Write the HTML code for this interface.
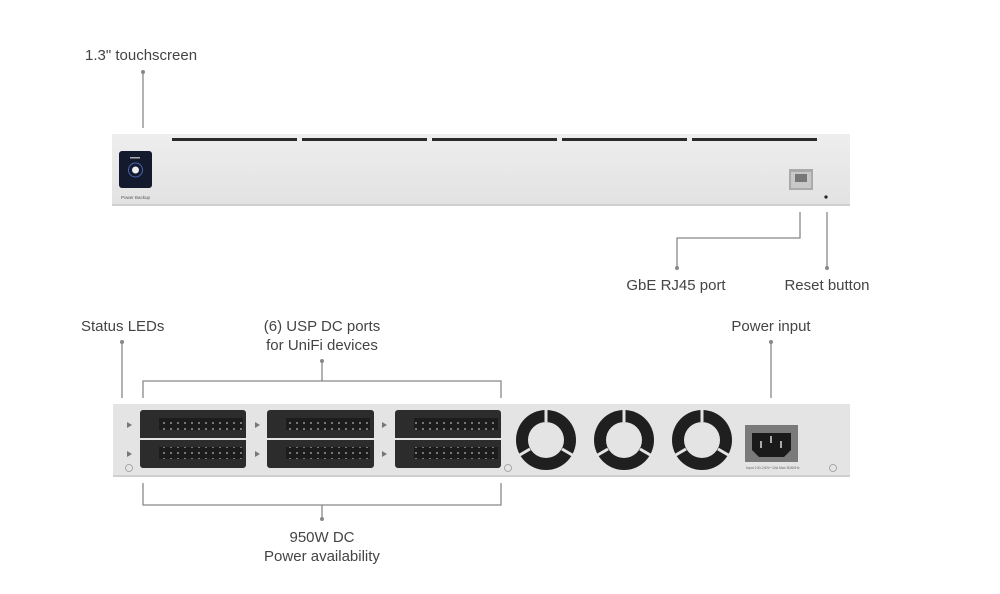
<!DOCTYPE html>
<html><head><meta charset="utf-8"><style>
html,body{margin:0;padding:0;background:#fff;}
svg{display:block;}
text{font-family:"Liberation Sans",sans-serif;fill:#444;font-size:15px;}
</style></head><body>
<svg width="1000" height="594" viewBox="0 0 1000 594" xmlns="http://www.w3.org/2000/svg">
<defs>
<pattern id="pins" x="0" y="0" width="7" height="6" patternUnits="userSpaceOnUse">
<rect width="7" height="6" fill="#1c1c1c"/><rect x="2" y="2" width="2" height="2" fill="#777"/>
</pattern>
<linearGradient id="dev" x1="0" y1="0" x2="0" y2="1"><stop offset="0" stop-color="#eeeeee"/><stop offset="1" stop-color="#e2e2e2"/></linearGradient>
</defs>
<g stroke="#888" stroke-width="1.3" fill="none">
<line x1="143" y1="72" x2="143" y2="128"/>
<polyline points="800,212 800,238 677,238 677,268"/>
<line x1="827" y1="212" x2="827" y2="268"/>
<line x1="122" y1="342" x2="122" y2="398"/>
<polyline points="143,398 143,381 501,381 501,398"/>
<line x1="322" y1="361" x2="322" y2="381"/>
<polyline points="143,483 143,505 501,505 501,483"/>
<line x1="322" y1="505" x2="322" y2="519"/>
<line x1="771" y1="342" x2="771" y2="398"/>
</g>
<g fill="#888"><circle cx="143" cy="72" r="2"/><circle cx="677" cy="268" r="2"/><circle cx="827" cy="268" r="2"/><circle cx="122" cy="342" r="2"/><circle cx="322" cy="361" r="2"/><circle cx="322" cy="519" r="2"/><circle cx="771" cy="342" r="2"/></g>
<text x="85" y="60">1.3" touchscreen</text>
<text x="676" y="290" text-anchor="middle">GbE RJ45 port</text>
<text x="827" y="290" text-anchor="middle">Reset button</text>
<text x="81" y="331">Status LEDs</text>
<text x="322" y="331" text-anchor="middle">(6) USP DC ports</text>
<text x="322" y="350" text-anchor="middle">for UniFi devices</text>
<text x="771" y="331" text-anchor="middle">Power input</text>
<text x="322" y="542" text-anchor="middle">950W DC</text>
<text x="322" y="561" text-anchor="middle">Power availability</text>

<rect x="112" y="134" width="738" height="72" fill="url(#dev)"/>
<rect x="112" y="204" width="738" height="2" fill="#cfcfcf"/>
<g fill="#2a2a2a">
<rect x="172" y="138" width="125" height="3"/><rect x="302" y="138" width="125" height="3"/><rect x="432" y="138" width="125" height="3"/><rect x="562" y="138" width="125" height="3"/><rect x="692" y="138" width="125" height="3"/>
</g>
<rect x="119" y="151" width="33" height="37" rx="3" fill="#141a2e"/>
<circle cx="135.5" cy="170" r="7" fill="none" stroke="#4a64b0" stroke-width="1"/>
<circle cx="135.5" cy="170" r="3.5" fill="#eee"/>
<rect x="130" y="157" width="10" height="1.5" fill="#aaa"/>
<text x="121" y="199" style="font-size:4.5px;fill:#555">Power Backup</text>
<rect x="789" y="169" width="24" height="21" fill="#aaa"/>
<rect x="791" y="172" width="20" height="16" fill="#c8c8c8"/>
<rect x="795" y="174" width="12" height="8" fill="#777"/>
<circle cx="826" cy="197" r="1.6" fill="#222"/>

<rect x="113" y="404" width="737" height="73" fill="#e4e4e4"/>
<rect x="113" y="475" width="737" height="2" fill="#cfcfcf"/>
<g fill="#2c2c2c">
<rect x="140" y="410" width="106" height="58" rx="3"/>
<rect x="267" y="410" width="107" height="58" rx="3"/>
<rect x="395" y="410" width="106" height="58" rx="3"/>
</g>
<g fill="#e4e4e4"><rect x="140" y="438" width="106" height="2"/><rect x="267" y="438" width="107" height="2"/><rect x="395" y="438" width="106" height="2"/></g>
<g fill="url(#pins)">
<rect x="159" y="418" width="84" height="12"/><rect x="159" y="447" width="84" height="12"/>
<rect x="286" y="418" width="84" height="12"/><rect x="286" y="447" width="84" height="12"/>
<rect x="414" y="418" width="84" height="12"/><rect x="414" y="447" width="84" height="12"/>
</g>
<g fill="#777">
<polygon points="127,422 127,428 132,425"/><polygon points="127,451 127,457 132,454"/>
<polygon points="255,422 255,428 260,425"/><polygon points="255,451 255,457 260,454"/>
<polygon points="382,422 382,428 387,425"/><polygon points="382,451 382,457 387,454"/>
</g>
<g fill="none" stroke="#999" stroke-width="0.8"><circle cx="129" cy="468" r="3.5"/><circle cx="508" cy="468" r="3.5"/><circle cx="833" cy="468" r="3.5"/></g>
<g>
<circle cx="546" cy="440" r="30" fill="#1f1f1f"/><circle cx="546" cy="440" r="18" fill="#e4e4e4"/>
<circle cx="624" cy="440" r="30" fill="#1f1f1f"/><circle cx="624" cy="440" r="18" fill="#e4e4e4"/>
<circle cx="702" cy="440" r="30" fill="#1f1f1f"/><circle cx="702" cy="440" r="18" fill="#e4e4e4"/>
</g>
<g stroke="#e4e4e4" stroke-width="3">
<line x1="546" y1="422" x2="546" y2="408"/><line x1="530" y1="449" x2="518" y2="456"/><line x1="562" y1="449" x2="574" y2="456"/>
<line x1="624" y1="422" x2="624" y2="408"/><line x1="608" y1="449" x2="596" y2="456"/><line x1="640" y1="449" x2="652" y2="456"/>
<line x1="702" y1="422" x2="702" y2="408"/><line x1="686" y1="449" x2="674" y2="456"/><line x1="718" y1="449" x2="730" y2="456"/>
</g>
<rect x="745" y="425" width="53" height="37" fill="#7a7a7a"/>
<path d="M752,433 L791,433 L791,450 L784,457 L759,457 L752,450 Z" fill="#1a1a1a"/>
<g fill="#aaa"><rect x="760" y="441" width="2" height="7"/><rect x="770" y="436" width="2" height="7"/><rect x="780" y="441" width="2" height="7"/></g>
<text x="746" y="469" style="font-size:3.5px;fill:#666">Input 100-240V~10A Max 50/60Hz</text>
</svg>
</body></html>
